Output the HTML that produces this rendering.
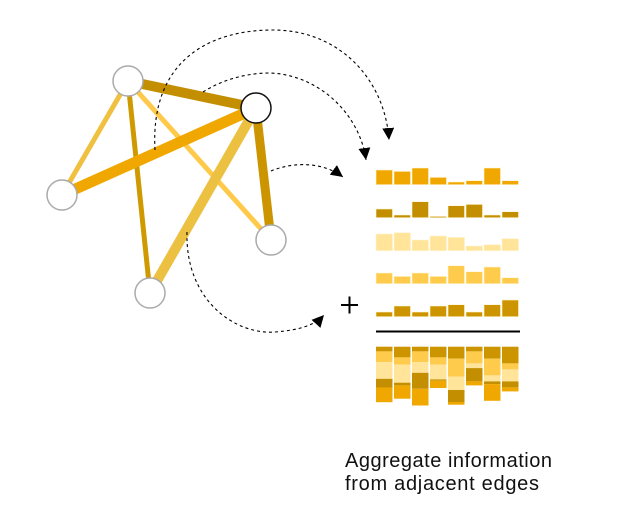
<!DOCTYPE html>
<html><head><meta charset="utf-8"><style>html,body{margin:0;padding:0;background:#fff}svg{display:block}</style></head>
<body>
<svg id="s" width="627" height="527" viewBox="0 0 627 527" xmlns="http://www.w3.org/2000/svg">
<defs>
<marker id="a2" viewBox="0 0 12 12" refX="12" refY="6" markerWidth="12" markerHeight="12" orient="auto" markerUnits="userSpaceOnUse"><path d="M0,0 L12,6 L0,12 z" fill="#000"/></marker></defs>
<g stroke-linecap="butt">
<line x1="128" y1="81" x2="62" y2="195" stroke="#f0c040" stroke-width="5"/>
<line x1="128" y1="81" x2="150" y2="293" stroke="#cf9a00" stroke-width="5"/>
<line x1="128" y1="81" x2="271" y2="240" stroke="#ffc94a" stroke-width="5"/>
<line x1="128" y1="81" x2="256" y2="108" stroke="#c38f00" stroke-width="10"/>
<line x1="62" y1="195" x2="256" y2="108" stroke="#f0a800" stroke-width="11"/>
<line x1="256" y1="108" x2="150" y2="293" stroke="#ecc040" stroke-width="10"/>
<line x1="256" y1="108" x2="271" y2="240" stroke="#cc9500" stroke-width="9"/>
</g>
<g fill="#fff" stroke="#aaa" stroke-width="1.5">
<circle cx="128" cy="81" r="15"/><circle cx="62" cy="195" r="15"/><circle cx="271" cy="240" r="15"/><circle cx="150" cy="293" r="15"/>
</g>
<circle cx="256" cy="108" r="15" fill="#fff" stroke="#111" stroke-width="1.5"/>
<g fill="none" stroke="#000" stroke-width="1.1" stroke-dasharray="3,3">
<path d="M155,150 C150,60 210,30 273,30 C340,30 385,80 389,140" marker-end="url(#a2)"/>
<path d="M203,92 C225,78 250,73 270,73 C320,75 360,115 366,160" marker-end="url(#a2)"/>
<path d="M271,171 C290,163 320,160 343,177" marker-end="url(#a2)"/>
<path d="M187,232 C185,300 235,335 275,332 C300,330 315,325 324,315" marker-end="url(#a2)"/>
</g>
<g stroke="#000" stroke-width="2"><line x1="341" y1="305" x2="358" y2="305"/><line x1="349.5" y1="296.5" x2="349.5" y2="313.5"/></g>
<line x1="376" y1="331.5" x2="520" y2="331.5" stroke="#000" stroke-width="2"/>
<g id="bars"></g>
<text font-family="Liberation Sans, sans-serif" font-size="20" fill="#111"><tspan x="345" y="467" textLength="207">Aggregate information</tspan><tspan x="345" y="490" textLength="194">from adjacent edges</tspan></text>
</svg>
<script>
var cols=["#f0a800","#c38f00","#ffe49a","#ffcb4c","#cc9500"];
var base=[184.7,217.7,250.7,283.7,316.7];
var H=[[14.7,13.3,16.7,7.3,2.7,4,16.7,4],[8.7,2.7,16,1.3,12,13.3,2.7,6],[16.7,18,10.7,14.7,13.3,4.7,6,12],[10.7,7.3,10.7,7.3,18,12,16.7,6],[4.7,10.7,4.7,10.7,12,4.7,12,16.7]];
var g=document.getElementById("bars"),s="";
for(var r=0;r<5;r++)for(var i=0;i<8;i++){var x=376+i*18,h=H[r][i];s+='<rect x="'+x+'" y="'+(base[r]-h)+'" width="16.5" height="'+h+'" fill="'+cols[r]+'" stroke="#fff3d0" stroke-width="0.6"/>';}
for(var i=0;i<8;i++){var y=346.7,x=376+i*18;for(var r=4;r>=0;r--){var h=H[r][i];s+='<rect x="'+x+'" y="'+y+'" width="16.5" height="'+h+'" fill="'+cols[r]+'"/>';y+=h;}}
g.innerHTML=s;
</script>
</body></html>
